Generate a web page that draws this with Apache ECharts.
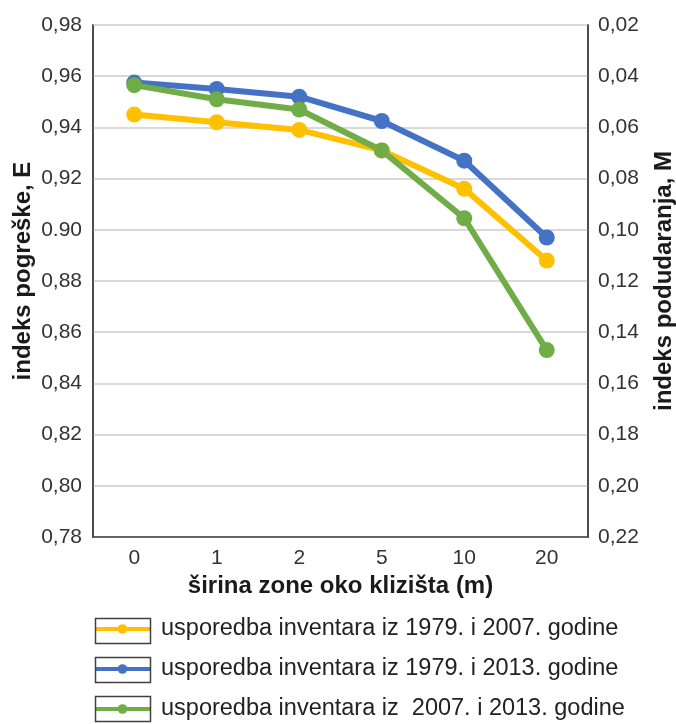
<!DOCTYPE html>
<html><head><meta charset="utf-8">
<script src="https://cdn.jsdelivr.net/npm/echarts@6/dist/echarts.min.js"></script>
<style>html,body{margin:0;padding:0;background:#fff}#c{width:676px;height:724px}</style>
</head><body><div id="c"></div>
<script>
const categories = ['0', '1', '2', '5', '10', '20'];
const s1979_2007 = [0.945, 0.942, 0.939, 0.931, 0.916, 0.888];
const s1979_2013 = [0.9575, 0.955, 0.952, 0.9425, 0.927, 0.897];
const s2007_2013 = [0.9565, 0.951, 0.947, 0.931, 0.9045, 0.853];
const names = ['usporedba inventara iz 1979. i 2007. godine', 'usporedba inventara iz 1979. i 2013. godine', 'usporedba inventara iz  2007. i 2013. godine'];
const leftTicks = ['0,78', '0,80', '0,82', '0,84', '0,86', '0,88', '0.90', '0,92', '0,94', '0,96', '0,98'];
const rightTicks = ['0,02', '0,04', '0,06', '0,08', '0,10', '0,12', '0,14', '0,16', '0,18', '0,20', '0,22'];
const colors = ['#FFC000', '#4472C4', '#70AD47'];

const chart = echarts.init(document.getElementById('c'));
const font = 'Liberation Sans, Arial, sans-serif';
const mk = (name, data, color) => ({
  name, type: 'line', data, yAxisIndex: 0,
  symbol: 'circle', symbolSize: 16,
  lineStyle: { width: 6, color }, itemStyle: { color },
  emphasis: { disabled: true }, animation: false
});
const legendTop = 617, legendGap = 39;
const titleStyle = { fontSize: 24, fontWeight: 'bold', color: '#1a1a1a', fontFamily: font };
chart.setOption({
  animation: false,
  textStyle: { fontFamily: font },
  grid: { left: 93, right: 88, top: 25, bottom: 187, outerBoundsMode: 'none', containLabel: false,
    show: true, borderColor: '#404040', borderWidth: 1.5 },
  xAxis: {
    type: 'category', data: categories, boundaryGap: true,
    name: 'širina zone oko klizišta (m)', nameLocation: 'middle', nameGap: 36,
    nameTextStyle: titleStyle,
    axisLine: { lineStyle: { color: '#404040', width: 1.5 } },
    axisTick: { alignWithLabel: true, inside: true, length: 10, lineStyle: { color: '#404040', width: 1.5 } },
    axisLabel: { fontSize: 21, color: '#333', margin: 11, fontFamily: font }
  },
  yAxis: [{
    type: 'value', min: 0.78, max: 0.98, interval: 0.02,
    name: 'indeks pogreške, E', nameLocation: 'middle', nameGap: 58, nameRotate: 90,
    nameMoveOverlap: false,
    nameTextStyle: Object.assign({}, titleStyle, { padding: [0, 0, 0, 20] }),
    axisLine: { show: true, lineStyle: { color: '#404040', width: 1.5 } },
    axisTick: { show: false },
    splitLine: { lineStyle: { color: '#d9d9d9', width: 2 } },
    axisLabel: { fontSize: 21, color: '#333', margin: 11, fontFamily: font,
      formatter: v => leftTicks[Math.round((v - 0.78) / 0.02)] }
  }, {
    type: 'value', min: 0.02, max: 0.22, interval: 0.02, inverse: true, position: 'right',
    name: 'indeks podudaranja, M', nameLocation: 'middle', nameGap: 64, nameRotate: 90,
    nameTextStyle: titleStyle,
    axisLine: { show: true, lineStyle: { color: '#404040', width: 1.5 } },
    axisTick: { show: false },
    splitLine: { show: false },
    axisLabel: { fontSize: 21, color: '#333', margin: 10, fontFamily: font,
      formatter: v => rightTicks[Math.round((v - 0.02) / 0.02)] }
  }],
  legend: {
    orient: 'vertical', left: 93, top: legendTop, padding: 0, itemGap: 16,
    itemWidth: 55, itemHeight: 12, selectedMode: false,
    textStyle: { fontSize: 23.5, color: '#222', fontFamily: font, padding: [0, 0, 0, 6] },
    data: names.map((n, i) => ({ name: n, lineStyle: { width: 4, color: colors[i] } }))
  },
  graphic: [0, 1, 2].map(i => ({
    type: 'rect', left: 93, top: legendTop - 1 + i * legendGap,
    shape: { width: 55, height: 25 }, silent: true, z: 100,
    style: { fill: 'none', stroke: '#404040', lineWidth: 1.5 }
  })),
  series: [mk(names[0], s1979_2007, colors[0]), mk(names[1], s1979_2013, colors[1]), mk(names[2], s2007_2013, colors[2])]
});
</script></body></html>
